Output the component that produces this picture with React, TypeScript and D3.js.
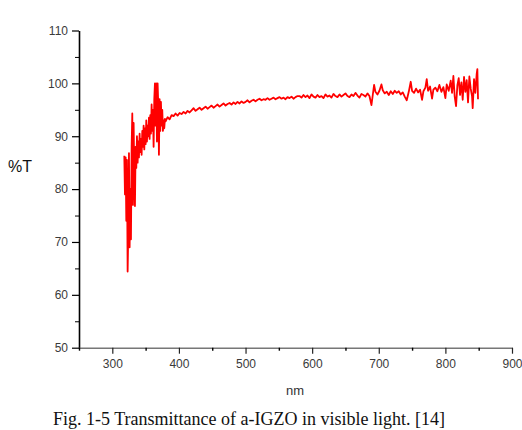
import React, { useEffect, useRef } from 'react'
import * as d3 from 'd3'

// transmittance spectrum: [nm, %T]
const spectrum: [number, number][] = [
  [318, 86.3], [319, 79], [320, 86], [321, 74], [322, 85.5], [323, 64.4], [324, 72], [325, 86.8],
  [326, 69], [327, 80], [328, 70.5], [329, 88], [330, 94.3], [331, 77], [332, 92.5], [333, 83],
  [334, 76.8], [335, 88], [336, 84], [337, 90], [338, 85], [339, 89], [340, 86], [341, 90.5],
  [342, 87], [343, 89.5], [344, 86.5], [345, 91], [346, 88], [347, 92], [348, 87.5], [349, 91.5],
  [350, 88.5], [351, 93], [352, 89], [353, 92], [354, 90], [355, 93.5], [356, 89.5], [357, 94],
  [358, 90.5], [359, 96], [360, 91], [361, 95], [362, 88], [363, 97], [364, 100], [365, 92],
  [366, 100], [367, 89], [368, 100], [369, 96], [370, 86.5], [371, 97], [372, 91], [373, 96.5],
  [374, 92], [375, 95], [376, 91], [377, 93], [378, 91.5], [379, 93.3], [380, 92.8],
  [383, 93.6], [386, 93.2], [389, 94], [392, 93.8], [395, 94.3], [398, 93.9], [401, 94.4],
  [404, 94.2], [407, 94.6], [410, 94.3], [413, 94.8], [416, 94.5], [419, 94.9], [422, 95.3],
  [425, 94.8], [428, 95.1], [431, 95.4], [434, 95], [437, 95.3], [440, 95.6], [443, 95.2],
  [446, 95.5], [449, 95.8], [452, 95.4], [455, 95.7], [458, 96], [461, 95.6], [464, 95.9],
  [467, 96.2], [470, 95.8], [473, 96.1], [476, 96.3], [479, 96], [482, 96.4], [485, 96.1],
  [488, 96.5], [491, 96.2], [494, 96.6], [497, 96.3], [500, 96.5], [503, 96.8], [506, 96.4],
  [509, 96.7], [512, 96.9], [515, 96.6], [518, 96.9], [521, 97.1], [524, 96.8], [527, 97],
  [530, 96.9], [533, 97.2], [536, 96.9], [539, 97.1], [542, 97.3], [545, 97], [548, 97.2],
  [551, 97.4], [554, 97.1], [557, 97.3], [560, 97], [563, 97.4], [566, 97.2], [569, 97.5],
  [572, 97.1], [575, 97.4], [578, 97.6], [581, 97.6], [584, 97.3], [587, 97.8], [590, 97.4],
  [593, 97.7], [596, 97.2], [599, 97.9], [602, 97.5], [605, 97.3], [608, 97.8], [611, 97.4],
  [614, 97.6], [617, 97.2], [620, 97.9], [623, 97.5], [626, 97.7], [629, 97.3], [632, 98.0],
  [635, 97.6], [638, 97.4], [641, 97.9], [644, 97.5], [647, 97.8], [650, 98.1], [653, 97.6],
  [656, 97.4], [659, 97.9], [662, 97.6], [665, 98.2], [668, 97.7], [671, 97.3], [674, 98.0],
  [677, 97.8], [680, 97.5], [683, 98.1], [686, 97.6], [689, 95.9], [691, 97.8], [693, 99.7],
  [695, 98.4], [698, 97.9], [701, 98.6], [704, 99.8], [706, 98.7], [709, 98.1], [712, 98.4],
  [715, 97.8], [718, 98.5], [721, 98.0], [724, 98.6], [727, 98.2], [730, 98.5], [733, 97.9],
  [736, 98.3], [739, 97.5], [742, 96.8], [745, 98.4], [748, 100.3], [750, 98.6], [753, 98.2],
  [756, 99.0], [759, 98.3], [762, 98.8], [765, 96.9], [767, 98.5], [770, 99.2], [772, 100.8],
  [774, 98.6], [777, 99.4], [780, 97.1], [782, 98.8], [785, 99.2], [788, 98.5], [791, 99.7],
  [794, 98.4], [797, 99.3], [800, 97.2], [802, 99.8], [805, 98.6], [808, 100.5], [810, 98.2],
  [812, 101.4], [814, 97.5], [816, 95.7], [818, 99.6], [820, 101.0], [822, 97.8], [824, 100.2],
  [826, 96.9], [828, 101.2], [830, 98.4], [832, 100.6], [834, 96.4], [836, 101.3], [838, 99.0],
  [840, 97.6], [841, 95.3], [843, 100.8], [845, 98.2], [847, 101.8], [848, 102.7], [849, 97.0]
]

const yTicks = [50, 60, 70, 80, 90, 100, 110]
const yMinor = [55, 65, 75, 85, 95, 105]
const xTicks = [300, 400, 500, 600, 700, 800, 900]
const xMinor = [250, 350, 450, 550, 650, 750, 850]

export default function App () {
  const ref = useRef<SVGSVGElement>(null)

  useEffect(() => {
    const svg = d3.select(ref.current)
    svg.selectAll('*').remove()

    const x = d3.scaleLinear().domain([250, 900]).range([79, 512])
    const y = d3.scaleLinear().domain([50, 110]).range([347.7, 30.5])

    // y axis
    const gy = svg.append('g').attr('transform', 'translate(79,0)')
    gy.call(d3.axisLeft(y).tickValues(yTicks).tickSize(7).tickSizeOuter(0).tickPadding(4))
    gy.call(g => g.select('.domain').attr('stroke', '#000').attr('stroke-width', 1.6))
    gy.selectAll('.tick line').attr('stroke', '#000').attr('stroke-width', 1.2)
    gy.selectAll('.tick text')
      .attr('font-family', 'Liberation Sans, Arial, sans-serif')
      .attr('font-size', 12).attr('fill', '#3a3a3a')
    const gyMinor = svg.append('g').attr('transform', 'translate(79,0)')
    gyMinor.call(d3.axisLeft(y).tickValues(yMinor).tickSize(4).tickFormat(() => ''))
    gyMinor.select('.domain').remove()

    // x axis
    const gx = svg.append('g').attr('transform', 'translate(0,347.7)')
    gx.call(d3.axisBottom(x).tickValues(xTicks).tickSize(6).tickSizeOuter(0).tickPadding(6))
    gx.select('.domain').attr('stroke', '#777').attr('stroke-width', 1.5)
    gx.selectAll('.tick line').attr('stroke', '#222').attr('stroke-width', 1.2)
    gx.selectAll('.tick text')
      .attr('font-family', 'Liberation Sans, Arial, sans-serif')
      .attr('font-size', 12).attr('fill', '#3a3a3a')
    const gxMinor = svg.append('g').attr('transform', 'translate(0,347.7)')
    gxMinor.call(d3.axisBottom(x).tickValues(xMinor).tickSize(3).tickFormat(() => ''))
    gxMinor.select('.domain').remove()
    gxMinor.selectAll('.tick line').attr('stroke-width', 1.4)

    // spectrum
    const line = d3.line<[number, number]>()
      .x(d => x(d[0]))
      .y(d => y(d[1]))
    svg.append('path')
      .datum(spectrum)
      .attr('d', line)
      .attr('fill', 'none')
      .attr('stroke', '#ff0000')
      .attr('stroke-width', 1.8)
      .attr('stroke-linejoin', 'round')

    // axis titles
    svg.append('text')
      .attr('x', 8).attr('y', 172)
      .attr('font-family', 'Liberation Sans, Arial, sans-serif')
      .attr('font-size', 16).attr('fill', '#111')
      .text('%T')
    svg.append('text')
      .attr('x', 295).attr('y', 395)
      .attr('text-anchor', 'middle')
      .attr('font-family', 'Liberation Sans, Arial, sans-serif')
      .attr('font-size', 13).attr('fill', '#333')
      .text('nm')

    // caption
    svg.append('text')
      .attr('x', 53).attr('y', 425)
      .attr('font-family', 'Liberation Serif, Times New Roman, serif')
      .attr('font-size', 18).attr('fill', '#111')
      .text('Fig. 1-5 Transmittance of a-IGZO in visible light. [14]')
  }, [])

  return (
    <svg ref={ref} width={522} height={430}
      style={{ position: 'absolute', left: 0, top: 0, background: '#fff' }} />
  )
}
